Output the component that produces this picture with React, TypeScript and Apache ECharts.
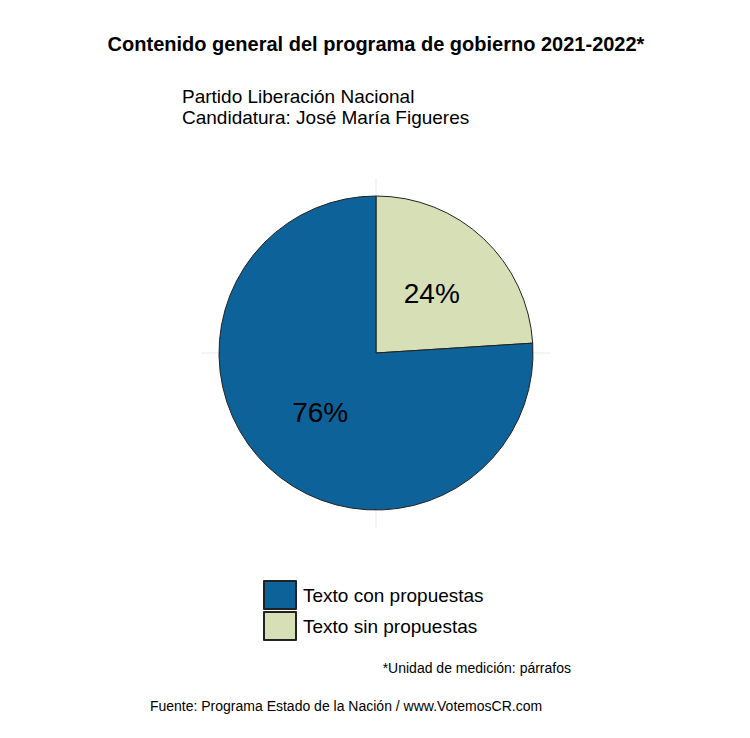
import React, { useEffect, useRef } from "react";
import * as echarts from "echarts";

const categories = ["Texto sin propuestas", "Texto con propuestas"];
const values = [24, 76];
const colors = ["#d6dfb6", "#0d6399"];

export default function App() {
  const ref = useRef<HTMLDivElement>(null);
  useEffect(() => {
    const chart = echarts.init(ref.current!, null, { renderer: "svg" });
    const font = "Liberation Sans, Arial, sans-serif";
    chart.setOption({
      animation: false,
      backgroundColor: "#ffffff",
      textStyle: { fontFamily: font },
      legend: {
        orient: "vertical",
        left: 258,
        top: 575,
        itemWidth: 32,
        itemHeight: 28,
        itemGap: 1,
        icon: "rect",
        data: [categories[1], categories[0]],
        textStyle: { fontSize: 19, color: "#000", fontFamily: font, padding: [0, 0, 0, 2] },
      },
      graphic: [
        { type: "line", shape: { x1: 376, y1: 178, x2: 376, y2: 528 }, style: { stroke: "#ebebeb", lineWidth: 1 }, z: -1 },
        { type: "line", shape: { x1: 201, y1: 353, x2: 551, y2: 353 }, style: { stroke: "#ebebeb", lineWidth: 1 }, z: -1 },
        { type: "text", x: 376, y: 44, style: { text: "Contenido general del programa de gobierno 2021-2022*", fontSize: 20, fontWeight: "bold", fill: "#000", align: "center", verticalAlign: "middle", fontFamily: font } },
        { type: "text", x: 182, y: 96, style: { text: "Partido Liberación Nacional", fontSize: 19, fill: "#000", verticalAlign: "middle", fontFamily: font } },
        { type: "text", x: 182, y: 117, style: { text: "Candidatura: José María Figueres", fontSize: 19, fill: "#000", verticalAlign: "middle", fontFamily: font } },
        { type: "text", x: 571, y: 668, style: { text: "*Unidad de medición: párrafos", fontSize: 14, fill: "#000", align: "right", verticalAlign: "middle", fontFamily: font } },
        { type: "text", x: 346, y: 706, style: { text: "Fuente: Programa Estado de la Nación / www.VotemosCR.com", fontSize: 14, fill: "#000", align: "center", verticalAlign: "middle", fontFamily: font } },
      ],
      series: [
        {
          type: "pie",
          center: [376, 353],
          radius: [0, 157],
          startAngle: 90,
          clockwise: true,
          itemStyle: { borderColor: "#222", borderWidth: 1 },
          label: {
            show: true,
            position: "inside",
            formatter: "{c}%",
            fontSize: 28,
            color: "#000",
            fontFamily: font,
          },
          labelLine: { show: false },
          emphasis: { disabled: true },
          data: categories.map((c, i) => ({ name: c, value: values[i], itemStyle: { color: colors[i] } })),
        },
      ],
    });
    return () => chart.dispose();
  }, []);
  return <div ref={ref} style={{ position: "absolute", left: 0, top: 0, width: 750, height: 738 }} />;
}
